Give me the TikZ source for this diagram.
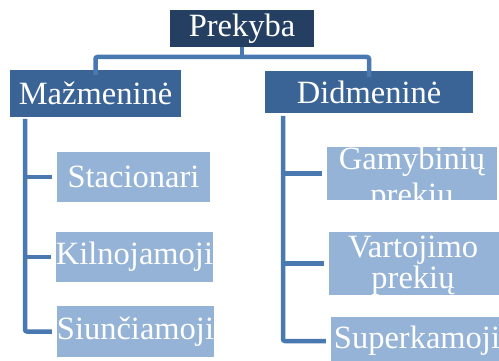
\documentclass[tikz,border=0pt]{standalone}
\usepackage{fontspec}
\setmainfont{Liberation Serif}
\definecolor{topc}{HTML}{243F62}
\definecolor{midc}{HTML}{3A6396}
\definecolor{lowc}{HTML}{95B3D7}
\definecolor{linec}{HTML}{4A78B0}
\tikzset{
  box/.style={fill=#1, draw=none, inner sep=0pt, text=white,
    font=\fontsize{32.5}{34}\selectfont, align=center},
  conn/.style={draw=linec, line width=4.5pt, rounded corners=2pt},
}
\begin{document}
\begin{tikzpicture}[x=1pt,y=-1pt]
\useasboundingbox (0,0) rectangle (499,361);
% boxes
\node[box=topc, minimum width=144pt, minimum height=37pt] (prek) at (242,28.5) {Prekyba};
\node[box=midc, minimum width=171pt, minimum height=47pt] (maz) at (95.5,93.5) {Mažmeninė};
\node[box=midc, minimum width=208pt, minimum height=42pt] (did) at (369,92) {Didmeninė};
\node[box=lowc, minimum width=153pt, minimum height=50pt] (sta) at (133.5,177) {Stacionari};
\node[box=lowc, minimum width=155pt, minimum height=50pt] (kil) at (134.5,257) {Kilnojamoji};
\node[box=lowc, minimum width=155pt, minimum height=51pt] (siu) at (135.5,331.5) {Siunčiamoji};
\node[box=lowc, minimum width=170pt, minimum height=53pt] (gam) at (412,173.5) {};
\node[box=lowc, minimum width=172pt, minimum height=63pt] (var) at (415,263.5) {};
\node[box=lowc, minimum width=172pt, minimum height=48pt] (sup) at (417,341) {Superkamoji};
\node[box=lowc, fill=none, font=\fontsize{32.5}{36}\selectfont] (gamt) at (412,180) {Gamybinių\\prekių};
\node[box=lowc, fill=none, font=\fontsize{32.5}{31}\selectfont] (vart) at (413,266) {Vartojimo\\prekių};
% connectors
\coordinate (mid) at (242,57);
\draw[conn] (prek.south) -- (mid);
\draw[conn] (mid) -| ([yshift=-5pt]maz.north);
\draw[conn] (mid) -| ([yshift=-6pt]did.north);
\coordinate (ltop) at (25,119);
\coordinate (rtop) at (283,116);
\draw[conn] (ltop) |- ([xshift=-5pt]siu.west);
\draw[conn] (ltop |- sta.west) -- ([xshift=-5pt]sta.west);
\draw[conn] (ltop |- kil.west) -- ([xshift=-5pt]kil.west);
\draw[conn] (rtop) |- ([xshift=-5pt]sup.west);
\draw[conn] (rtop |- gam.west) -- ([xshift=-5pt]gam.west);
\draw[conn] (rtop |- var.west) -- ([xshift=-5pt]var.west);
\end{tikzpicture}
\end{document}
